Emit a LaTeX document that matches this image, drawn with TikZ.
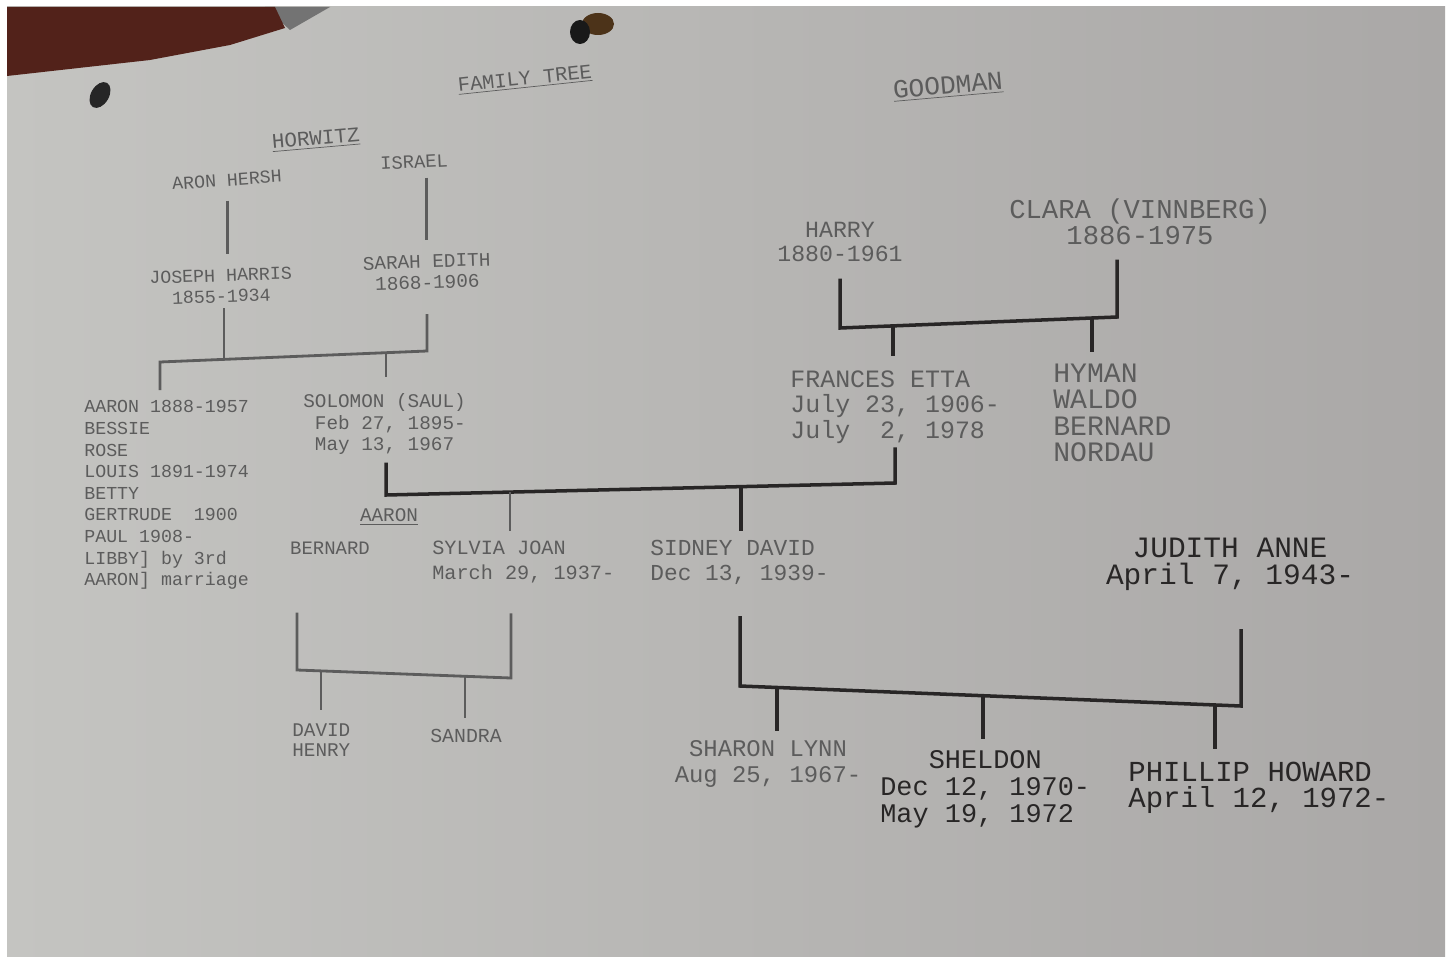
\documentclass[tikz,border=0pt]{standalone}
\usepackage{fontspec}
\setmonofont{Liberation Mono}
\usepackage{tikz}
\usetikzlibrary{calc,positioning}
\definecolor{paperA}{RGB}{196,196,193}
\definecolor{paperB}{RGB}{170,168,167}
\definecolor{inkL}{RGB}{92,92,92}
\definecolor{inkD}{RGB}{40,38,38}
\definecolor{hand}{RGB}{82,34,26}

\begin{document}
\begin{tikzpicture}[x=0.02cm,y=-0.02cm,
  tw/.style n args={2}{font=\fontsize{#1}{#2}\selectfont\ttfamily,inner sep=0pt,align=left},
  faint/.style={text=inkL},
  dark/.style={text=inkD},
  lnkL/.style={draw=inkL,line width=1.6pt},
  lnk/.style={draw=inkD,line width=2pt}]
  \useasboundingbox (0,0) rectangle (1452,963);
  \fill[white] (0,0) rectangle (1452,963);
  \shade[left color=paperA,right color=paperB] (7,7) rectangle (1445,956);
  \fill[black!55] (265,7) -- (330,7) -- (290,30) -- cycle;
  \fill[hand] (7,7) -- (275,7) -- (285,28) -- (230,45) -- (150,60) -- (7,76) -- cycle;
  \fill[black!85,rotate around={-30:(100,95)}] (100,95) ellipse (9 and 14);
  \fill[black!60!brown] (598,24) ellipse (16 and 11);
  \fill[black!90] (580,32) ellipse (10 and 12);

  % titles
  \node[tw={11.6}{13},faint,rotate=6] (title) at (525,80) {\underline{FAMILY TREE}};
  \node[tw={14.9}{16},faint,rotate=5] (goodman) at (948,87) {\underline{GOODMAN}};
  \node[tw={11.9}{13},faint,rotate=5] (horwitz) at (316,140) {\underline{HORWITZ}};

  % Horwitz side
  \node[tw={10.4}{12},faint,rotate=4] (aron) at (227,180) {ARON HERSH};
  \node[tw={10.7}{12},faint,rotate=3] (israel) at (414,162) {ISRAEL};
  \node[tw={10.4}{12},faint,align=center,rotate=2] (joseph) at (221,286) {JOSEPH HARRIS\\1855-1934};
  \node[tw={11}{12},faint,align=center,rotate=2] (sarah) at (427,272) {SARAH EDITH\\1868-1906};
  \node[tw={10.4}{12.3},faint,anchor=west] (alist) at (84,495)
    {AARON 1888-1957\\BESSIE\\ROSE\\LOUIS 1891-1974\\BETTY\\GERTRUDE~~1900\\PAUL 1908-\\LIBBY] by 3rd\\AARON] marriage};
  \node[tw={11}{12.2},faint,anchor=west] (solomon) at (303,424) {SOLOMON (SAUL)\\~Feb 27, 1895-\\~May 13, 1967};
  \node[tw={11}{12},faint] (aaronlbl) at (389,517) {\underline{AARON}};
  \node[tw={10.8}{12},faint] (bernard) at (330,548) {BERNARD};
  \node[tw={11.5}{14.2},faint,anchor=west] (sylvia) at (432,562) {SYLVIA JOAN\\March 29, 1937-};
  \node[tw={11}{11.5},faint,anchor=west] (david) at (292,740) {DAVID\\HENRY};
  \node[tw={11.3}{12},faint] (sandra) at (466,736) {SANDRA};

  % Goodman side
  \node[tw={13.2}{13.2},faint,align=center] (harry) at (840,242) {HARRY\\1880-1961};
  \node[tw={15.5}{15},faint,align=center] (clara) at (1140,222) {CLARA (VINNBERG)\\1886-1975};
  \node[tw={14.2}{14.5},faint,anchor=west] (frances) at (790,407) {FRANCES ETTA\\July 23, 1906-\\July~~2, 1978};
  \node[tw={16}{15.1},faint,anchor=west] (hyman) at (1053,413) {HYMAN\\WALDO\\BERNARD\\NORDAU};
  \node[tw={13}{14.2},faint,anchor=west] (sidney) at (650,562) {SIDNEY DAVID\\Dec 13, 1939-};
  \node[tw={16.8}{15.3},dark,align=center] (judith) at (1230,564) {JUDITH ANNE\\April 7, 1943-};
  \node[tw={13.6}{15.3},faint,align=center] (sharon) at (768,764) {SHARON LYNN\\Aug 25, 1967-};
  \node[tw={15.3}{15.3},dark,anchor=west] (sheldon) at (880,789) {~~~SHELDON\\Dec 12, 1970-\\May 19, 1972};
  \node[tw={16.5}{15}, dark,anchor=west] (phillip) at (1128,788) {PHILLIP HOWARD\\April 12, 1972-};

  % bars
  \coordinate (hz-l) at (160,362);   \coordinate (hz-r) at (427,351);
  \coordinate (hz-jos) at (224,359.4); \coordinate (hz-sol) at (386,352.7);
  \coordinate (sf-l) at (386,495);   \coordinate (sf-r) at (895,483);
  \coordinate (sf-syl) at (510,492); \coordinate (sf-sid) at (741,486.6);
  \coordinate (hc-l) at (840,328);   \coordinate (hc-r) at (1117,317);
  \coordinate (hc-fra) at (893,325.9); \coordinate (hc-hym) at (1092,318);
  \coordinate (bs-l) at (297,670);   \coordinate (bs-r) at (511,678);
  \coordinate (bs-dav) at (321,670.9); \coordinate (bs-san) at (465,676.3);
  \coordinate (sj-l) at (740,686);   \coordinate (sj-r) at (1241,706);
  \coordinate (sj-sha) at (777,687.5); \coordinate (sj-she) at (983,695.7); \coordinate (sj-phi) at (1215,705);

  \draw[lnkL,shorten <=8pt,shorten >=8.5pt] (aron.south) -- (aron.south |- joseph.north);
  \draw[lnkL,shorten <=5pt,shorten >=8.5pt] (sarah.north |- israel.south) -- (sarah.north);
  \draw[lnkL,shorten <=3pt] (hz-jos |- joseph.south) -- (hz-jos);
  \draw[lnkL,shorten <=14pt,shorten >=5.7pt] (hz-r |- sarah.south) -- (hz-r) -- (hz-l) -- (hz-l |- alist.north);
  \draw[lnkL,shorten >=9pt] (hz-sol) -- (hz-sol |- solomon.north);

  \draw[lnk,shorten <=4.5pt,shorten >=2pt] (sf-l |- solomon.south) -- (sf-l) -- (sf-r) -- (sf-r |- frances.south);
  \draw[lnkL,shorten >=5.4pt] (sf-syl) -- (sf-syl |- sylvia.north);
  \draw[lnk,shorten >=4.8pt] (sf-sid) -- (sf-sid |- sidney.north);

  \draw[lnk,shorten <=9.6pt,shorten >=8pt] (hc-l |- harry.south) -- (hc-l) -- (hc-r) -- (hc-r |- clara.south);
  \draw[lnk,shorten >=8.3pt] (hc-fra) -- (hc-fra |- frances.north);
  \draw[lnk,shorten >=6.6pt] (hc-hym) -- (hc-hym |- hyman.north);

  \draw[lnkL,shorten <=33pt,shorten >=17pt] (bs-l |- bernard.south) -- (bs-l) -- (bs-r) -- (bs-r |- sylvia.south);
  \draw[lnkL,shorten >=7.7pt] (bs-dav) -- (bs-dav |- david.north);
  \draw[lnkL,shorten >=6.5pt] (bs-san) -- (bs-san |- sandra.north);

  \draw[lnk,shorten <=18pt,shorten >=22pt] (sj-l |- sidney.south) -- (sj-l) -- (sj-r) -- (sj-r |- judith.south);
  \draw[lnk,shorten >=5pt] (sj-sha) -- (sj-sha |- sharon.north);
  \draw[lnk,shorten >=6pt] (sj-she) -- (sj-she |- sheldon.north);
  \draw[lnk,shorten >=7.4pt] (sj-phi) -- (sj-phi |- phillip.north);
\end{tikzpicture}
\end{document}
